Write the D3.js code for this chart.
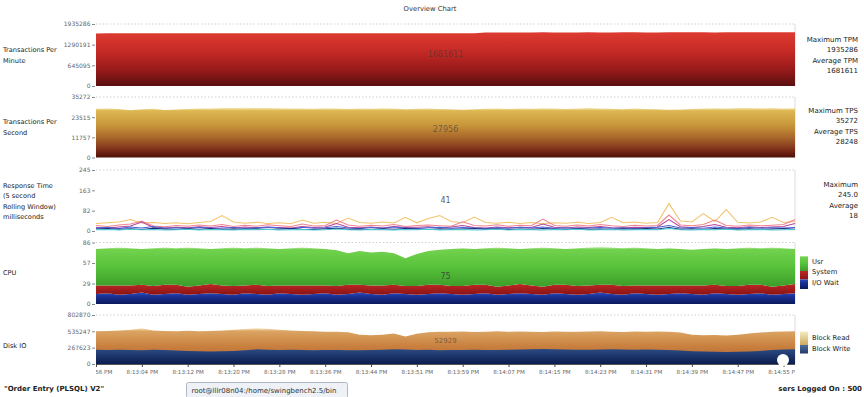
<!DOCTYPE html>
<html>
<head>
<meta charset="utf-8">
<title>Overview Chart</title>
<script src="https://cdn.jsdelivr.net/npm/d3@7"></script>
<style>
  body { margin: 0; background: #fff; }
  svg { display: block; font-family: "DejaVu Sans", sans-serif; }
</style>
</head>
<body>
<div id="chart"></div>
<script>
// ---- data ----
const timeLabels = ["8:12:56 PM", "8:13:04 PM", "8:13:12 PM", "8:13:20 PM", "8:13:28 PM", "8:13:36 PM",
  "8:13:44 PM", "8:13:51 PM", "8:13:59 PM", "8:14:07 PM", "8:14:15 PM", "8:14:23 PM",
  "8:14:31 PM", "8:14:39 PM", "8:14:47 PM", "8:14:55 PM"];

// one sample every 2 seconds
const tpm = [1642000, 1645000, 1644000, 1646000, 1643000, 1645000, 1647000, 1644000, 1646000, 1645000,
  1643000, 1646000, 1648000, 1645000, 1644000, 1646000, 1645000, 1647000, 1644000, 1645000,
  1646000, 1643000, 1645000, 1647000, 1646000, 1644000, 1645000, 1646000, 1644000, 1647000,
  1645000, 1646000, 1648000, 1650000, 1668000, 1672000, 1670000, 1673000, 1671000, 1674000,
  1672000, 1670000, 1673000, 1675000, 1672000, 1671000, 1674000, 1676000, 1673000, 1672000,
  1675000, 1677000, 1674000, 1676000, 1673000, 1675000, 1678000, 1676000, 1674000, 1677000,
  1675000, 1676000];

const tps = [28400, 28500, 28300, 27600, 28200, 28400, 27700, 28000, 28300, 28500,
  28600, 28800, 28900, 29000, 28800, 28900, 28700, 28500, 28600, 28400,
  28700, 28500, 28300, 28600, 28400, 28700, 28500, 28200, 28400, 28600,
  28300, 28100, 27900, 28200, 28400, 28500, 28300, 28600, 28400, 28700,
  28500, 28300, 28600, 28800, 28500, 28400, 28200, 28500, 28300, 28100,
  27800, 28000, 28300, 28500, 28700, 28600, 28800, 28900, 28700, 28800,
  28600, 28700];

// response time series (ms)
const rtYellow = [30, 33, 36, 46, 32, 34, 30, 33, 29, 34, 38, 62, 36, 31, 35, 30, 33, 29, 44, 31,
  35, 30, 52, 34, 31, 36, 32, 55, 33, 50, 62, 38, 33, 56, 34, 31, 35, 30, 34, 29,
  33, 31, 35, 30, 34, 55, 33, 36, 31, 34, 110, 40, 36, 70, 38, 86, 35, 32, 36, 55,
  34, 38];
const rtPink = [22, 18, 24, 28, 40, 20, 17, 22, 19, 24, 20, 26, 18, 23, 19, 25, 21, 18, 28, 20,
  22, 44, 24, 19, 23, 20, 26, 18, 22, 24, 21, 19, 37, 22, 20, 25, 19, 23, 21, 48,
  22, 19, 24, 20, 26, 21, 18, 23, 20, 22, 64, 24, 21, 26, 44, 22, 19, 24, 21, 23,
  26, 46];
const rtMagenta = [14, 12, 16, 20, 36, 14, 12, 15, 13, 17, 14, 18, 12, 16, 13, 15, 14, 12, 18, 14,
  16, 30, 15, 13, 16, 12, 18, 14, 15, 17, 13, 16, 22, 14, 12, 16, 13, 15, 14, 28,
  15, 12, 16, 14, 18, 13, 12, 15, 14, 16, 46, 17, 14, 18, 26, 15, 13, 17, 14, 16,
  18, 30];
const rtBlue = [12, 14, 10, 16, 12, 18, 11, 13, 10, 15, 12, 11, 14, 10, 13, 16, 12, 9, 15, 11,
  13, 18, 12, 10, 14, 11, 16, 12, 10, 13, 15, 11, 14, 12, 10, 13, 11, 15, 12, 16,
  11, 13, 10, 12, 14, 11, 13, 10, 12, 15, 22, 12, 14, 11, 16, 12, 10, 14, 11, 13,
  12, 14];
const rtNavy = [8, 10, 7, 9, 6, 11, 8, 6, 9, 7, 10, 6, 8, 7, 9, 6, 8, 10, 7, 6,
  9, 11, 7, 8, 6, 9, 7, 10, 8, 6, 9, 7, 8, 10, 7, 9, 6, 8, 7, 10,
  8, 6, 9, 7, 8, 6, 9, 7, 10, 8, 14, 7, 9, 6, 10, 8, 7, 9, 6, 8,
  10, 7];
const rtCyan = [5, 6, 4, 7, 5, 6, 4, 5, 7, 4, 6, 5, 4, 6, 5, 7, 4, 5, 6, 4,
  5, 8, 5, 4, 6, 5, 4, 6, 5, 7, 4, 5, 6, 4, 5, 7, 4, 6, 5, 4,
  6, 5, 7, 4, 5, 6, 4, 5, 6, 5, 10, 5, 4, 6, 5, 7, 4, 5, 6, 4,
  5, 6];

// cpu (%)
const cpuUsr = [51, 52, 53, 52, 50, 53, 52, 51, 55, 52, 49, 52, 54, 52, 52, 53, 51, 52, 53, 52,
  51, 50, 44, 47, 46, 47, 44, 39, 45, 47, 49, 52, 53, 50, 51, 55, 52, 49, 52, 55,
  51, 50, 53, 53, 53, 52, 53, 53, 52, 51, 52, 51, 50, 51, 51, 52, 53, 52, 51, 55,
  52, 49];
const cpuSys = [12, 11, 13, 12, 11, 12, 13, 12, 11, 12, 13, 12, 12, 11, 13, 12, 11, 12, 13, 12,
  11, 12, 13, 11, 12, 13, 12, 11, 12, 13, 12, 11, 12, 13, 12, 11, 12, 13, 12, 11,
  12, 13, 12, 12, 11, 13, 12, 11, 12, 13, 12, 11, 12, 13, 12, 11, 12, 13, 12, 11,
  12, 13];
const cpuIo = [14, 15, 13, 14, 16, 13, 14, 15, 13, 14, 15, 14, 13, 15, 14, 13, 15, 14, 13, 14,
  15, 13, 14, 16, 14, 13, 15, 14, 13, 14, 15, 14, 13, 14, 15, 13, 14, 15, 14, 13,
  15, 14, 13, 14, 16, 14, 13, 15, 14, 13, 14, 15, 14, 13, 15, 14, 13, 14, 15, 13,
  14, 15];

// disk io
const blockRead = [535000, 540000, 548000, 560000, 585000, 550000, 540000, 535000, 545000, 538000,
  542000, 550000, 560000, 572000, 585000, 578000, 560000, 548000, 540000, 535000,
  530000, 528000, 520000, 480000, 470000, 478000, 500000, 452000, 495000, 520000,
  530000, 528000, 532000, 525000, 530000, 535000, 528000, 532000, 530000, 526000,
  534000, 530000, 528000, 532000, 535000, 530000, 526000, 532000, 528000, 534000,
  530000, 515000, 480000, 470000, 475000, 468000, 478000, 500000, 515000, 528000,
  532000, 535000];
const blockWrite = [232000, 228000, 235000, 230000, 226000, 232000, 228000, 222000, 215000, 210000,
  205000, 208000, 212000, 225000, 240000, 235000, 228000, 232000, 230000, 226000,
  228000, 230000, 226000, 224000, 230000, 234000, 240000, 236000, 228000, 232000,
  226000, 230000, 228000, 234000, 230000, 228000, 232000, 236000, 240000, 244000,
  240000, 236000, 232000, 234000, 236000, 240000, 238000, 234000, 236000, 232000,
  228000, 222000, 210000, 205000, 200000, 198000, 202000, 206000, 215000, 230000,
  236000, 240000];

const panelMax = [1935286, 35272, 245, 86, 802870];
const currentValues = ["1681611", "27956", "41", "75", "52929"];
const panelNames = [["Transactions Per", "Minute"], ["Transactions Per", "Second"],
  ["Response Time", "(5 second", "Rolling Window)", "milliseconds"], ["CPU"], ["Disk IO"]];
const panelStats = [["Maximum TPM", "1935286", "Average TPM", "1681611"],
  ["Maximum TPS", "35272", "Average TPS", "28248"],
  ["Maximum", "245.0", "Average", "18"]];
const cpuKeys = ["Usr", "System", "I/O Wait"];
const diskKeys = ["Block Read", "Block Write"];

// ---- layout ----
const width = 864, height = 397;
const plotLeft = 96, plotRight = 795;
const panels = [
  { top: 24, bottom: 86, nameY: 52, statY: 41.5 },
  { top: 97, bottom: 157.5, nameY: 124, statY: 112.5 },
  { top: 170, bottom: 231, nameY: 187.5, statY: 186.5 },
  { top: 242.5, bottom: 304, nameY: 274.5 },
  { top: 315, bottom: 364, nameY: 347.5 }
];

const svg = d3.select("#chart")
  .append("svg")
  .attr("width", width)
  .attr("height", height);

const defs = svg.append("defs");
function gradient(id, stops) {
  const g = defs.append("linearGradient").attr("id", id)
    .attr("x1", 0).attr("y1", 0).attr("x2", 0).attr("y2", 1);
  stops.forEach(function(s) {
    g.append("stop").attr("offset", s[0]).attr("stop-color", s[1]);
  });
}
gradient("gTpm", [[0, "#dd3b31"], [0.35, "#c62a25"], [0.7, "#971a1a"], [1, "#5a0f10"]]);
gradient("gTps", [[0, "#f7ecb8"], [0.06, "#ddb752"], [0.35, "#c9963a"], [0.6, "#a9672b"], [0.8, "#86391d"], [0.93, "#651c10"], [1, "#4a1008"]]);
gradient("gUsr", [[0, "#e2f7d6"], [0.06, "#72d24e"], [0.5, "#58c23b"], [1, "#3c9c29"]]);
gradient("gSys", [[0, "#bd2626"], [1, "#8a1414"]]);
gradient("gIo", [[0, "#2c4cbc"], [0.35, "#1a3092"], [1, "#0a1a5c"]]);
gradient("gRead", [[0, "#f6e6bc"], [0.08, "#dba463"], [0.5, "#c9803f"], [1, "#b0612b"]]);
gradient("gWrite", [[0, "#2b4b82"], [1, "#0c1c50"]]);
gradient("gReadKey", [[0, "#f6ecc0"], [1, "#cfa860"]]);
gradient("gWriteKey", [[0, "#4d6d9c"], [1, "#243a6a"]]);

defs.append("clipPath").attr("id", "plotClip")
  .append("rect").attr("x", plotLeft).attr("y", 0)
  .attr("width", plotRight - plotLeft).attr("height", height);

const x = d3.scaleLinear().domain([0, tpm.length - 1]).range([plotLeft, plotRight]);

// title
svg.append("text")
  .attr("x", 430).attr("y", 11)
  .attr("text-anchor", "middle")
  .style("font-size", "6.8px").style("fill", "#333")
  .text("Overview Chart");

// panel frames, y axes and names
const yScales = panels.map(function(p, k) {
  const y = d3.scaleLinear().domain([0, panelMax[k]]).range([p.bottom, p.top]);

  svg.append("line")
    .attr("x1", plotLeft).attr("x2", plotRight)
    .attr("y1", y(panelMax[k])).attr("y2", y(panelMax[k]))
    .attr("stroke", "#cfcfcf").attr("stroke-dasharray", "1.5,2");
  svg.append("line")
    .attr("x1", plotRight).attr("x2", plotRight)
    .attr("y1", y(panelMax[k])).attr("y2", y(0))
    .attr("stroke", "#dcdcdc");

  const ax = svg.append("g")
    .attr("transform", "translate(" + (plotLeft - 1) + ",0)")
    .call(d3.axisLeft(y)
      .tickValues(d3.range(4).map(function(j) { return panelMax[k] * j / 3; }))
      .tickFormat(function(d) { return Math.round(d); })
      .tickSize(3).tickPadding(1.5));
  ax.select(".domain").remove();
  ax.selectAll("line").attr("stroke", "#888");
  ax.selectAll("text").style("font-size", "6px").style("fill", "#666").style("font-family", "DejaVu Sans");

  svg.append("g").selectAll("text")
    .data(panelNames[k])
    .enter().append("text")
    .attr("x", 3)
    .attr("y", function(d, i) { return p.nameY + i * 10.5; })
    .style("font-size", "6.6px").style("fill", "#222")
    .text(function(d) { return d; });

  if (panelStats[k]) {
    svg.append("g").selectAll("text")
      .data(panelStats[k])
      .enter().append("text")
      .attr("x", 858)
      .attr("y", function(d, i) { return p.statY + i * 10.5; })
      .attr("text-anchor", "end")
      .style("font-size", "7px").style("fill", "#222")
      .text(function(d) { return d; });
  }
  return y;
});

const plot = svg.append("g");

// TPM
plot.append("path")
  .datum(tpm)
  .attr("fill", "url(#gTpm)")
  .attr("d", d3.area().x(function(d, i) { return x(i); }).y0(yScales[0](0)).y1(function(d) { return yScales[0](d); }));

// TPS
plot.append("path")
  .datum(tps)
  .attr("fill", "url(#gTps)")
  .attr("d", d3.area().x(function(d, i) { return x(i); }).y0(yScales[1](0)).y1(function(d) { return yScales[1](d); }));

// Response time lines
const rtSeries = [
  { values: rtYellow, color: "#f3c46c" },
  { values: rtPink, color: "#f2828e" },
  { values: rtMagenta, color: "#b8449c" },
  { values: rtBlue, color: "#4a60d6" },
  { values: rtNavy, color: "#1c2a7c" },
  { values: rtCyan, color: "#4cc8d2" }
];
const rtLine = d3.line().x(function(d, i) { return x(i); }).y(function(d) { return yScales[2](d); });
plot.selectAll(".rt")
  .data(rtSeries)
  .enter().append("path")
  .attr("class", "rt")
  .attr("fill", "none")
  .attr("stroke", function(d) { return d.color; })
  .attr("stroke-width", 1.1)
  .attr("d", function(d) { return rtLine(d.values); });

// CPU stacked
const cpuRows = cpuUsr.map(function(d, i) { return { io: cpuIo[i], sys: cpuSys[i], usr: d }; });
const cpuStack = d3.stack().keys(["io", "sys", "usr"])(cpuRows);
const cpuFill = { io: "url(#gIo)", sys: "url(#gSys)", usr: "url(#gUsr)" };
plot.selectAll(".cpu")
  .data(cpuStack)
  .enter().append("path")
  .attr("class", "cpu")
  .attr("fill", function(d) { return cpuFill[d.key]; })
  .attr("d", d3.area()
    .x(function(d, i) { return x(i); })
    .y0(function(d) { return yScales[3](d[0]); })
    .y1(function(d) { return yScales[3](d[1]); }));

// Disk IO
[{ values: blockRead, fill: "url(#gRead)" }, { values: blockWrite, fill: "url(#gWrite)" }].forEach(function(s) {
  plot.append("path")
    .datum(s.values)
    .attr("fill", s.fill)
    .attr("d", d3.area().x(function(d, i) { return x(i); }).y0(yScales[4](0)).y1(function(d) { return yScales[4](d); }));
});

// current value labels
panels.forEach(function(p, k) {
  svg.append("text")
    .attr("x", (plotLeft + plotRight) / 2)
    .attr("y", [56.5, 132, 203, 278.5, 342.5][k])
    .attr("text-anchor", "middle")
    .style("font-size", k === 4 ? "7px" : "8px")
    .style("fill", "#3a3a3a")
    .style("fill-opacity", k < 2 || k === 4 ? 0.6 : 0.85)
    .text(currentValues[k]);
});

// time axis
const xAxis = svg.append("g")
  .attr("transform", "translate(0," + panels[4].bottom + ")")
  .attr("clip-path", "url(#plotClip)")
  .call(d3.axisBottom(x)
    .tickValues(timeLabels.map(function(d, i) { return i * 4; }))
    .tickFormat(function(d) { return timeLabels[d / 4]; })
    .tickSize(3).tickPadding(3));
xAxis.select(".domain").attr("stroke", "#555");
xAxis.selectAll("line").attr("stroke", "#444");
xAxis.selectAll("text").style("font-size", "5.6px").style("fill", "#666").style("font-family", "DejaVu Sans");

// legends
const cpuLegend = [
  { key: cpuKeys[0], fill: "url(#gUsr)", y0: 256, y1: 271, ty: 264 },
  { key: cpuKeys[1], fill: "url(#gSys)", y0: 271, y1: 279.5, ty: 274 },
  { key: cpuKeys[2], fill: "url(#gIo)", y0: 279.5, y1: 289, ty: 284.5 }
];
const diskLegend = [
  { key: diskKeys[0], fill: "url(#gReadKey)", y0: 331.5, y1: 345, ty: 340 },
  { key: diskKeys[1], fill: "url(#gWriteKey)", y0: 345, y1: 353.5, ty: 350.5 }
];
cpuLegend.concat(diskLegend).forEach(function(l) {
  svg.append("rect")
    .attr("x", 800).attr("y", l.y0)
    .attr("width", 8).attr("height", l.y1 - l.y0)
    .attr("fill", l.fill);
  svg.append("text")
    .attr("x", 812).attr("y", l.ty)
    .style("font-size", "6.8px").style("fill", "#222")
    .text(l.key);
});

// cursor blob in the screenshot
svg.append("circle").attr("cx", 783).attr("cy", 360).attr("r", 6).attr("fill", "#fff");

// status bar
svg.append("text")
  .attr("x", 4).attr("y", 390.5)
  .style("font-size", "7px").style("font-weight", "bold").style("fill", "#222")
  .text("\"Order Entry (PLSQL) V2\"");
svg.append("rect")
  .attr("x", 186.5).attr("y", 382.5).attr("width", 161).attr("height", 16).attr("rx", 2)
  .attr("fill", "#eef1f5").attr("stroke", "#aeb8c4");
svg.append("text")
  .attr("x", 191.5).attr("y", 392.5)
  .style("font-size", "7px").style("fill", "#333")
  .text("root@lllr08n04:/home/swingbench2.5/bin");
svg.append("text")
  .attr("x", 862).attr("y", 391)
  .attr("text-anchor", "end")
  .style("font-size", "7px").style("font-weight", "bold").style("fill", "#222")
  .text("sers Logged On : 500");
</script>
</body>
</html>
